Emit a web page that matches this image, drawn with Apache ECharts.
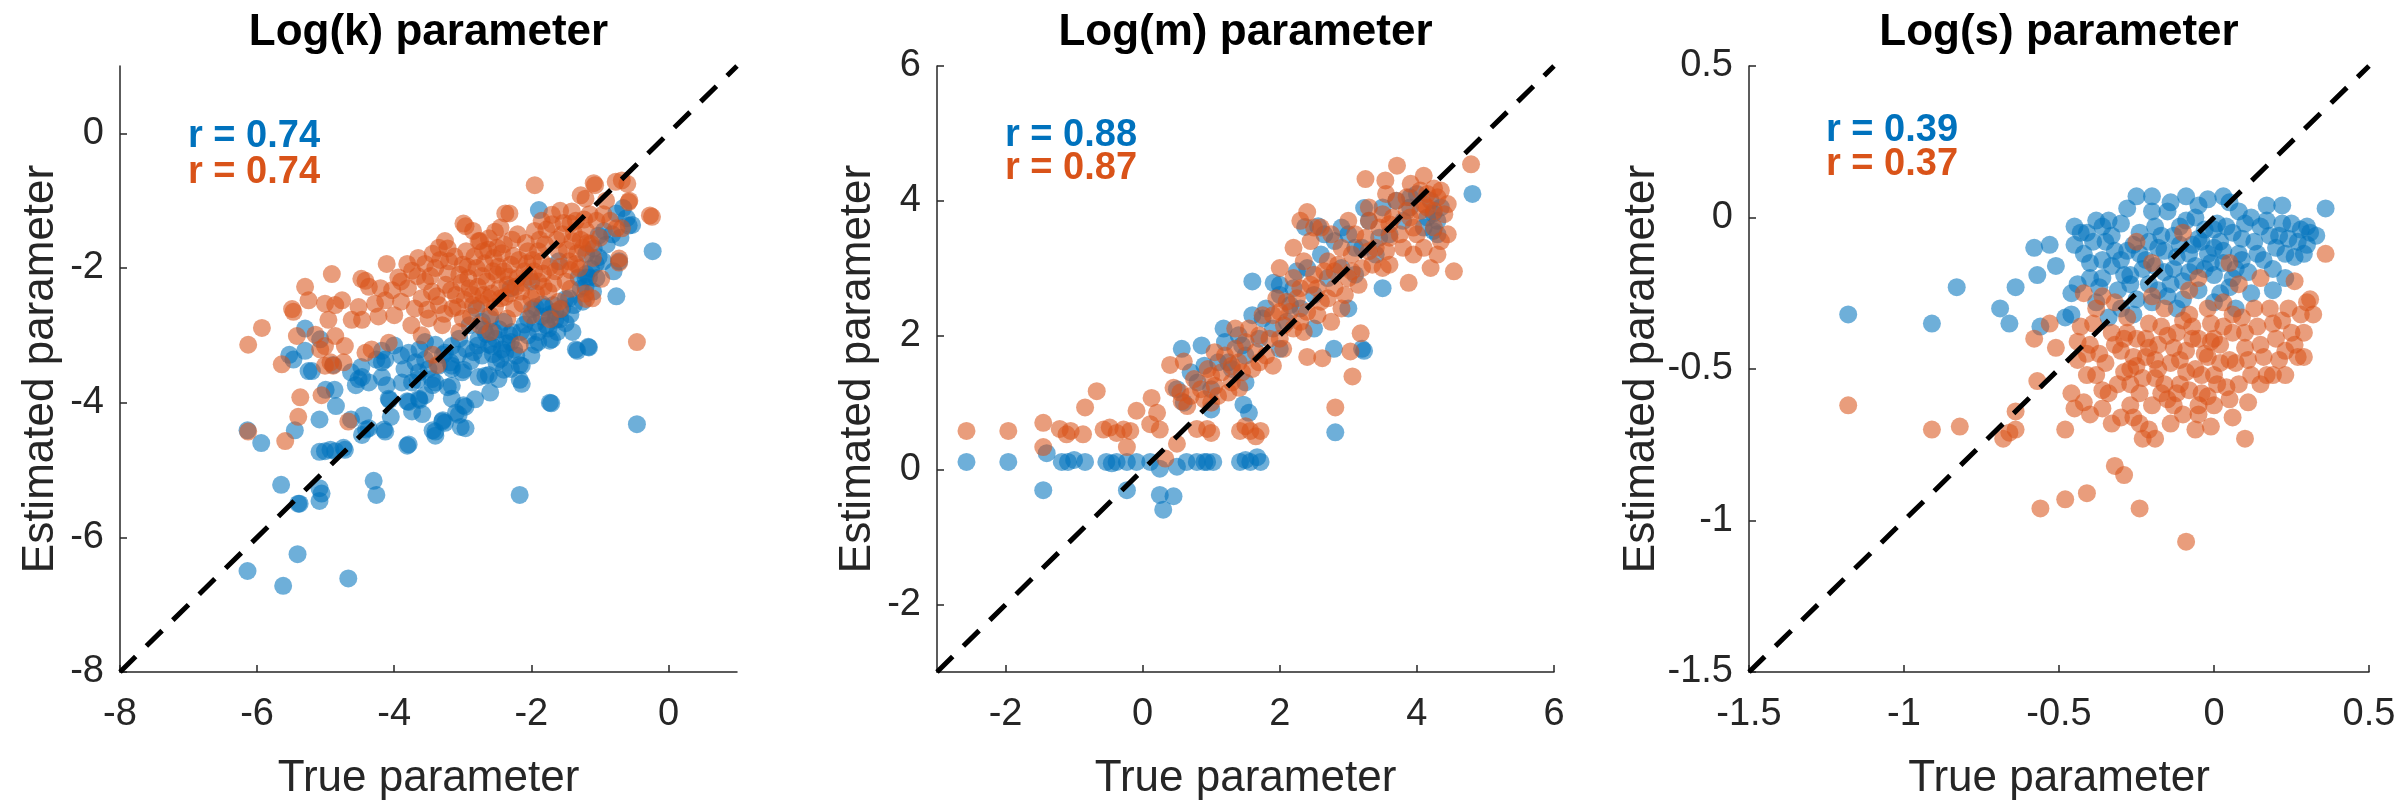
<!DOCTYPE html>
<html>
<head>
<meta charset="utf-8">
<title>Parameter recovery</title>
<script src="https://cdn.jsdelivr.net/npm/echarts@6.0.0/dist/echarts.min.js"></script>
<style>
  html, body { margin: 0; padding: 0; background: #ffffff; }
  #chart { width: 2399px; height: 806px; }
</style>
</head>
<body>
<div id="chart"></div>
<script>
// ---- Log(k): true vs. estimated, two estimation methods ----
const logkRange = [-8, 1];
const logkTicks = [-8, -6, -4, -2, 0];
const logkR = ['0.74', '0.74'];
const logkA = [
  [-6.14,-6.50],[-5.62,-6.72],[-5.41,-6.25],[-4.67,-6.61],[-2.17,-5.37],
  [-5.65,-5.22],[-5.38,-5.50],[-5.09,-5.46],[-5.09,-5.27],[-4.30,-5.16],[-4.26,-5.37],
  [-5.94,-4.60],[-6.14,-4.41],[-5.45,-4.41],[-5.09,-4.73],[-4.93,-4.70],[-4.74,-4.67],
  [-5.09,-4.25],[-4.85,-4.05],[-4.87,-3.81],[-4.63,-4.25],[-4.45,-4.19],[-4.41,-4.40],
  [-4.15,-4.40],[-3.81,-4.64],[-4.05,-4.21],[-4.07,-3.96],[-3.81,-3.98],[-3.63,-3.96],
  [-3.59,-4.17],[-3.44,-4.41],[-3.29,-4.26],[-3.10,-4.15],[-3.03,-4.36],[-2.99,-4.04],
  [-3.40,-4.49],[-3.89,-3.70],[-3.66,-3.66],[-3.44,-3.74],[-3.22,-3.77],[-1.73,-4.00],[-0.46,-4.32],
  [-5.30,-2.90],[-5.53,-3.29],[-5.25,-3.53],[-5.08,-3.06],[-4.89,-3.44],[-4.63,-3.55],
  [-4.56,-3.74],[-4.47,-3.62],[-4.48,-3.47],[-4.26,-3.36],[-4.18,-3.62],[-4.11,-3.74],[-5.00,-3.81],
  [-5.47,-3.36],[-5.30,-3.23],[-5.20,-3.53],[-4.52,-3.65],[-4.37,-3.70],[-4.18,-3.40],
  [-4.08,-3.94],[-3.74,-3.70],[-3.79,-3.99],[-3.64,-3.94],[-3.74,-4.13],[-3.55,-3.89],
  [-3.40,-3.70],[-3.30,-4.28],[-3.40,-4.43],[-3.79,-4.62],[-4.13,-4.43],[-4.37,-4.38],
  [-4.47,-4.48],[-5.01,-4.72],[-4.86,-4.72],[-4.72,-4.70],[-5.40,-5.50],[-5.06,-5.35],
  [-3.79,-3.26],[-3.69,-3.40],[-3.55,-3.36],[-4.13,-3.36],[-4.18,-3.23],[-3.64,-3.55],
  [-3.45,-3.65],[-3.26,-3.26],[-3.16,-3.16],[-3.16,-3.50],[-3.16,-3.94],
  [-3.63,-3.21],[-3.40,-3.14],[-3.29,-3.29],[-3.18,-3.40],[-3.07,-3.29],[-2.99,-3.51],
  [-2.84,-3.25],[-2.69,-2.91],[-2.62,-3.14],[-2.47,-2.91],[-2.43,-3.21],[-2.32,-2.99],
  [-2.25,-3.21],[-2.17,-3.44],[-2.17,-3.66],[-2.62,-3.59],[-2.51,-3.40],[-2.77,-3.62],
  [-2.40,-3.51],[-1.95,-3.14],[-2.10,-2.84],[-1.99,-2.61],[-1.84,-2.54],[-1.73,-2.69],
  [-1.58,-2.76],[-1.43,-2.69],[-1.73,-3.08],[-1.35,-3.21],[-1.17,-3.17],[-1.50,-2.46],
  [-1.28,-2.31],[-1.20,-2.09],[-1.13,-2.01],[-1.20,-1.79],[-1.09,-1.71],[-1.02,-1.52],
  [-0.94,-1.45],[-0.76,-1.19],[-0.61,-1.26],[-0.58,-1.37],[-0.23,-1.75],[-0.76,-2.42],
  [-0.72,-1.90],[-0.66,-1.11],[-1.89,-1.14],[-0.53,-1.36],[-1.06,-1.94],[-1.21,-2.14],
  [-1.21,-2.28],[-1.70,-3.06],[-1.33,-3.23],[-1.16,-3.18],[-1.71,-4.01],[-2.14,-3.45],
  [-2.14,-3.72],[-2.48,-3.65],[-2.67,-3.60],[-2.96,-4.06],[-3.06,-4.18],[-2.96,-4.38],
  [-3.26,-4.30],[-2.57,-3.16],[-2.38,-3.26],[-2.77,-3.06],[-3.16,-3.45],[-3.01,-3.55],
  [-3.16,-3.75],[-1.94,-2.58],[-1.80,-2.58],[-1.94,-2.82],[-1.65,-2.77],[-1.50,-2.82],
  [-1.31,-2.14],[-1.16,-2.14],[-1.02,-1.84],[-2.30,-2.30],[-2.80,-2.60],[-1.60,-1.90],
  [-2.00,-2.20],[-2.90,-2.85],[-2.60,-2.75],
  [-3.05,-3.05],[-2.95,-3.20],[-2.88,-3.38],[-2.78,-3.15],[-2.72,-3.30],[-2.66,-2.98],
  [-2.56,-3.28],[-2.52,-3.05],[-2.45,-3.35],[-2.36,-3.12],[-2.28,-2.95],[-2.22,-3.30],
  [-2.05,-3.00],[-2.00,-3.30],[-1.90,-2.95],[-1.85,-2.72],[-1.78,-2.85],[-1.68,-2.55],
  [-1.62,-2.95],[-1.55,-2.60],[-1.45,-2.45],[-1.40,-2.95],[-1.38,-2.55],[-1.25,-2.50],
  [-1.10,-2.35],[-1.05,-2.15],[-0.95,-1.90],[-0.90,-1.65],[-0.82,-1.50],[-0.70,-1.55],
  [-0.80,-2.05],[-3.50,-3.50],[-3.35,-3.45],[-3.55,-3.10],[-3.90,-3.30],[-4.00,-3.15],
  [-3.85,-3.50],[-2.82,-3.95],[-2.60,-3.85],[-2.30,-3.50],
  [-2.72,-2.80],[-2.55,-2.95],[-2.40,-2.80],[-2.30,-3.10],[-2.15,-2.95],[-2.05,-2.75],
  [-1.90,-3.10],[-1.75,-2.90],[-1.65,-2.65]
];
const logkB = [
  [-6.13,-3.14],[-5.93,-2.89],[-5.64,-3.43],[-5.47,-2.65],[-5.30,-2.28],[-5.42,-3.01],
  [-5.25,-2.48],[-4.91,-2.09],[-5.01,-2.53],[-4.86,-2.55],[-4.76,-2.48],[-4.96,-2.77],
  [-5.01,-3.16],[-4.86,-3.01],[-4.72,-3.16],[-5.01,-3.45],[-4.89,-3.45],[-4.74,-3.40],
  [-5.06,-3.89],[-5.37,-3.92],[-5.40,-4.21],[-5.59,-4.57],[-6.13,-4.43],[-4.67,-4.28],
  [-4.42,-2.19],[-4.37,-2.28],[-4.52,-2.58],[-4.47,-2.77],[-4.28,-2.53],[-4.62,-2.77],
  [-4.33,-3.21],[-4.13,-2.48],[-4.23,-2.72],[-4.03,-2.33],[-3.94,-2.14],[-3.74,-2.04],
  [-3.55,-1.94],[-3.35,-1.70],[-3.26,-1.60],[-4.08,-3.11],[-4.42,-3.26],[-5.49,-2.61],
  [-5.15,-2.99],[-5.08,-3.21],[-4.93,-3.40],[-4.48,-2.16],[-4.11,-1.94],[-3.81,-1.94],
  [-3.66,-2.12],[-3.44,-1.79],[-3.22,-1.71],[-2.99,-1.34],[-2.62,-1.56],[-2.32,-1.19],
  [-1.95,-0.77],[-1.58,-1.15],[-1.43,-1.34],[-1.28,-0.92],[-1.09,-0.74],[-0.91,-1.00],
  [-0.68,-0.70],[-0.57,-1.00],[-0.27,-1.22],[-0.46,-3.10],[-0.76,-1.41],[-0.72,-1.86],
  [-0.98,-2.16],[-1.20,-2.46],[-1.43,-2.31],[-1.35,-1.94],[-1.13,-1.64],[-1.73,-2.76],
  [-1.58,-2.61],[-2.17,-3.14],[-3.44,-3.29],[-3.37,-3.44],[-1.07,-0.77],[-0.77,-0.72],
  [-0.60,-0.75],[-1.21,-0.97],[-0.58,-1.02],[-0.24,-1.24],[-2.96,-1.38],[-2.38,-1.19],
  [-1.41,-1.16],[-1.70,-1.21],[-2.53,-1.46],[-2.77,-1.60],[-0.68,-1.41],[-0.72,-1.92],
  [-1.11,-2.45],[-1.21,-2.38],
  [-3.80,-2.30],[-3.70,-2.60],[-3.60,-2.45],[-3.55,-2.20],[-3.50,-2.75],[-3.45,-2.35],
  [-3.40,-2.00],[-3.35,-2.55],[-3.30,-2.85],[-3.25,-2.25],[-3.20,-1.90],[-3.15,-2.60],
  [-3.10,-2.40],[-3.05,-2.10],[-3.00,-2.75],[-2.95,-1.75],[-2.90,-2.30],[-2.85,-2.55],
  [-2.80,-2.00],[-2.75,-1.60],[-2.70,-2.40],[-2.65,-2.20],[-2.60,-2.70],[-2.55,-1.85],
  [-2.50,-2.10],[-2.45,-2.45],[-2.40,-1.65],[-2.35,-2.25],[-2.30,-1.95],[-2.25,-2.60],
  [-2.20,-1.50],[-2.15,-2.35],[-2.10,-2.05],[-2.05,-1.75],[-2.00,-2.45],[-1.95,-1.45],
  [-1.90,-2.20],[-1.85,-1.90],[-1.80,-1.65],[-1.75,-2.35],[-1.70,-1.35],[-1.65,-2.05],
  [-1.60,-1.75],[-1.55,-1.50],[-1.50,-2.20],[-1.45,-1.90],[-1.40,-1.60],[-1.35,-1.30],
  [-1.30,-2.00],[-1.25,-1.70],[-1.20,-1.45],[-1.15,-1.20],[-1.10,-1.85],[-3.90,-2.50],
  [-3.75,-2.85],[-4.00,-2.70],[-3.60,-3.00],[-2.75,-2.85],[-2.00,-2.70],[-1.60,-2.50],
  [-3.52,-2.62],[-3.47,-2.12],[-3.38,-2.42],[-3.33,-1.88],[-3.27,-2.68],[-3.22,-2.08],
  [-3.17,-2.33],[-3.12,-1.83],[-3.08,-2.58],[-3.02,-2.22],[-2.97,-2.47],[-2.93,-1.98],
  [-2.88,-2.72],[-2.83,-1.83],[-2.78,-2.28],[-2.73,-2.53],[-2.68,-1.93],[-2.63,-1.73],
  [-2.58,-2.38],[-2.53,-2.58],[-2.48,-1.98],[-2.43,-1.78],[-2.38,-2.43],[-2.33,-2.13],
  [-2.28,-1.58],[-2.23,-2.28],[-2.18,-1.88],[-2.13,-2.53],[-2.08,-1.63],[-2.03,-2.13],
  [-1.98,-1.88],[-1.93,-2.38],[-1.88,-1.58],[-1.83,-2.08],[-1.78,-1.43],[-1.73,-1.98],
  [-1.68,-2.23],[-1.63,-1.58],[-1.58,-1.98],[-1.53,-1.33],[-1.48,-1.73],[-1.43,-2.03],
  [-1.38,-1.48],[-1.33,-1.78],[-1.28,-1.58],[-1.23,-1.28],[-1.18,-1.63],[-2.60,-2.95],
  [-2.35,-2.75],[-3.05,-2.95],[-2.45,-1.40],[-2.85,-1.45],[-1.85,-1.30],[-1.05,-1.30],
  [-1.00,-1.55],[-0.95,-1.20],[-0.85,-1.30],[-3.90,-2.20],[-3.65,-1.85],[-4.20,-2.30],
  [-2.92,-2.15],[-2.86,-2.40],[-2.72,-2.12],[-2.62,-2.45],[-2.56,-2.05],[-2.46,-2.30],
  [-2.40,-2.05],[-2.31,-2.38],[-2.26,-1.82],[-2.20,-2.15],[-2.12,-2.22],[-2.06,-1.93],
  [-1.96,-2.05],[-1.90,-1.75],[-1.82,-2.28],[-2.50,-1.70],[-2.70,-1.75],[-3.00,-1.95]
];

// ---- Log(m) ----
const logmRange = [-3, 6];
const logmTicks = [-2, 0, 2, 4, 6];
const logmR = ['0.88', '0.87'];
const logmA = [
  [-3.03,-0.59],[-2.57,0.12],[-1.96,0.12],[-1.45,-0.30],[-1.40,0.25],[-1.18,0.12],
  [-1.09,0.12],[-1.00,0.15],[-0.84,0.12],[-0.53,0.12],[-0.45,0.10],[-0.38,0.12],
  [-0.23,0.12],[-0.23,-0.30],[-0.09,0.12],[0.11,0.12],[0.25,0.02],[0.25,-0.37],
  [0.30,-0.59],[0.45,-0.39],[0.50,0.05],[0.64,0.12],[0.79,0.12],[0.90,0.12],
  [0.94,0.12],[1.03,0.12],[1.42,0.12],[1.50,0.15],[1.57,0.12],[1.67,0.19],[1.72,0.12],
  [0.57,1.80],[0.86,1.85],[1.18,2.10],[1.47,0.97],[1.55,0.85],[1.60,2.80],[2.00,2.75],
  [1.91,2.78],[2.37,3.61],[2.56,3.62],[3.23,3.89],[4.24,3.81],[4.24,3.55],[4.81,4.10],
  [3.20,1.80],[2.81,0.56],[2.79,1.80],[3.23,1.77],
  [0.60,1.00],[0.80,1.30],[1.00,1.20],[1.10,1.60],[1.20,1.90],[1.30,1.50],[1.40,2.00],
  [1.50,1.70],[1.60,2.30],[1.70,1.95],[1.80,2.40],[1.90,2.10],[2.00,2.60],[2.10,2.20],
  [2.20,2.70],[2.30,2.40],[2.40,3.00],[2.50,2.60],[2.60,3.20],[2.70,2.85],[2.80,3.40],
  [2.90,3.00],[3.00,3.50],[3.10,2.90],[3.20,3.30],[3.30,3.70],[3.40,3.20],[3.50,3.90],
  [3.60,3.50],[3.70,4.00],[3.80,3.70],[3.90,3.90],[4.00,4.10],[4.10,3.60],[4.20,4.00],
  [4.30,3.70],[4.35,3.90],[3.00,2.40],[2.50,2.10],[1.50,1.30],[1.00,0.90],[0.50,1.20],
  [3.50,2.70],[2.00,1.80],
  [2.25,2.95],[2.65,3.50],[2.90,3.60],[3.10,3.30],[3.45,3.45],[3.90,4.05],[4.15,3.75],
  [4.30,3.50],[1.25,1.60],[1.45,1.85],[1.75,2.25],[2.15,2.45],[0.90,1.55],[0.70,1.45]
];
const logmB = [
  [-3.03,0.17],[-2.57,0.58],[-1.96,0.58],[-1.45,0.70],[-1.45,0.34],[-1.21,0.61],
  [-1.11,0.53],[-1.05,0.58],[-0.87,0.53],[-0.57,0.60],[-0.48,0.63],[-0.38,0.55],
  [-0.28,0.60],[-0.18,0.58],[0.11,0.68],[0.25,0.60],[-0.23,0.34],[0.33,0.17],
  [0.50,0.39],[0.79,0.61],[0.94,0.61],[1.00,0.55],[1.42,0.58],[1.50,0.65],[1.57,0.58],
  [1.65,0.50],[1.72,0.58],
  [-0.84,0.93],[-0.67,1.17],[-0.09,0.88],[0.13,1.07],[0.21,0.85],[0.45,1.22],[0.57,1.02],
  [0.40,1.56],[0.60,1.61],[0.70,1.10],[0.85,1.20],[1.00,1.40],[1.10,1.10],[1.20,1.70],
  [1.30,1.30],[1.40,1.60],[1.50,1.90],[1.60,1.50],[1.70,2.00],[1.80,1.70],[1.90,2.30],
  [2.00,1.95],[2.10,2.50],[2.20,2.10],[2.30,2.70],[2.40,2.35],[2.50,2.90],[2.60,2.50],
  [2.70,3.10],[2.75,2.20],[2.80,2.70],[2.90,3.30],[3.00,2.85],[3.10,3.50],[3.20,3.00],
  [3.30,3.70],[3.40,3.30],[3.50,3.00],[3.50,3.80],[3.60,3.45],[3.70,4.00],[3.80,3.30],
  [3.90,3.75],[4.00,3.50],[4.05,4.15],[4.15,3.90],[4.25,3.60],[4.30,4.05],[4.40,3.80],
  [4.35,3.40],
  [4.79,4.54],[3.71,4.52],[3.25,4.32],[3.54,4.30],[3.91,4.25],[4.10,4.37],[4.25,4.18],
  [4.54,2.95],[3.88,2.78],[2.40,3.83],[3.18,2.03],[3.03,1.76],[3.06,1.39],[2.40,1.68],
  [2.62,1.66],[2.81,0.93],[2.06,2.15],[1.41,1.22],[2.30,3.70],[2.20,3.30],[2.50,3.60],
  [2.00,3.00],[4.30,3.20],[4.20,3.00],
  [0.55,1.15],[0.65,0.95],[0.75,1.35],[0.90,1.05],[0.95,1.50],[1.05,1.25],[1.15,1.45],
  [1.25,1.15],[1.35,1.80],[1.45,1.45],[1.55,2.10],[1.65,1.75],[1.75,2.30],[1.85,1.95],
  [1.95,2.55],[2.05,1.80],[2.15,2.35],[2.25,2.55],[2.35,2.05],[2.45,2.75],[2.55,2.30],
  [2.65,2.95],[2.70,2.55],[2.85,3.05],[2.95,2.60],[3.05,3.20],[3.15,2.75],[3.25,3.45],
  [3.35,3.05],[3.45,3.60],[3.55,3.25],[3.65,3.75],[3.75,3.50],[3.85,4.05],[3.95,3.60],
  [4.05,3.85],[4.15,4.10],[4.25,3.85],[4.35,4.15],[4.45,3.95],[2.60,3.60],[2.45,3.40],
  [2.75,3.50],[3.00,3.70],[3.55,4.10],[3.30,3.90],[2.35,3.10],[2.20,2.85],[2.90,2.40],
  [3.60,3.05],[4.10,3.30],[4.45,3.50],[3.95,3.20],[1.90,1.55],[1.35,2.10],[1.05,1.75],
  [2.00,2.35],[2.30,2.20],[2.55,2.70],[2.80,2.95],[3.05,2.95],[3.30,3.25],[3.60,3.65],
  [3.85,3.85],[4.10,3.95],[1.70,1.60],[1.30,1.55],[1.00,1.00]
];

// ---- Log(s) ----
const logsRange = [-1.5, 0.5];
const logsTicks = [-1.5, -1, -0.5, 0, 0.5];
const logsR = ['0.39', '0.37'];
const logsA = [
  [-1.18,-0.32],[-0.91,-0.35],[-0.83,-0.23],[-0.69,-0.30],[-0.66,-0.35],[-0.64,-0.23],
  [-0.58,-0.10],[-0.53,-0.09],[-0.57,-0.19],[-0.51,-0.16],[-0.45,-0.03],[-0.41,-0.05],
  [-0.45,-0.09],[-0.38,-0.01],[-0.36,-0.03],[-0.46,-0.32],[-0.48,-0.33],[-0.56,-0.36],
  [-0.46,-0.25],[-0.25,0.07],[-0.20,0.07],[-0.09,0.07],[0.03,0.07],[0.22,0.04],
  [0.36,0.03],[-0.05,0.04],[-0.20,0.02],[-0.15,0.02],[0.30,-0.03],[0.30,-0.09],
  [0.29,-0.12],[0.23,-0.20],[0.19,-0.24],[0.05,0.05],[0.12,0.00],
  [-0.42,-0.12],[-0.40,-0.20],[-0.38,-0.28],[-0.35,-0.08],[-0.33,-0.16],[-0.31,-0.24],
  [-0.30,-0.02],[-0.28,-0.11],[-0.27,-0.19],[-0.25,-0.27],[-0.24,-0.05],[-0.22,-0.14],
  [-0.21,-0.22],[-0.19,-0.03],[-0.18,-0.10],[-0.16,-0.18],[-0.15,-0.26],[-0.13,-0.06],
  [-0.12,-0.13],[-0.10,-0.21],[-0.09,-0.01],[-0.07,-0.09],[-0.06,-0.16],[-0.05,-0.24],
  [-0.03,-0.04],[-0.02,-0.12],[0.00,-0.19],[0.01,-0.02],[0.02,-0.08],[0.03,-0.15],
  [0.05,-0.23],[0.06,-0.05],[0.08,-0.12],[0.10,-0.02],[0.11,-0.18],[0.13,-0.08],
  [0.15,-0.03],[0.16,-0.14],[0.18,-0.06],[0.20,-0.10],[0.22,-0.02],[0.24,-0.07],
  [0.26,-0.13],[0.28,-0.04],[-0.26,-0.32],[-0.12,-0.30],[0.00,-0.28],[0.07,-0.30],
  [-0.34,-0.33],[-0.44,-0.22],
  [-0.43,-0.05],[-0.40,-0.15],[-0.37,-0.23],[-0.34,-0.01],[-0.32,-0.11],[-0.29,-0.19],
  [-0.26,-0.09],[-0.23,-0.17],[-0.20,-0.28],[-0.17,-0.06],[-0.14,-0.22],[-0.11,-0.09],
  [-0.08,-0.18],[-0.04,-0.08],[-0.01,-0.15],[0.02,-0.25],[0.04,-0.03],[0.07,-0.17],
  [0.09,-0.07],[0.12,-0.25],[0.14,-0.12],[0.17,-0.01],[0.19,-0.17],[0.21,-0.06],
  [0.23,-0.12],[0.25,-0.02],[0.27,-0.08],[0.31,-0.05],[0.33,-0.06],[-0.28,0.03],
  [-0.14,0.05],[-0.02,0.06],[0.08,0.02],[0.17,0.04],[-0.10,-0.27],[-0.30,-0.30],
  [-0.18,-0.24],[0.00,-0.10],[-0.06,0.00],[-0.36,-0.14],
  [-0.33,-0.06],[-0.30,-0.14],[-0.27,-0.22],[-0.24,-0.12],[-0.21,-0.08],[-0.19,-0.16],
  [-0.16,-0.11],[-0.13,-0.17],[-0.11,-0.03],[-0.08,-0.12],[-0.05,-0.07],[-0.03,-0.17],
  [0.00,-0.04],[0.03,-0.11],[0.06,-0.20],[0.09,-0.14],[-0.36,-0.20],[-0.39,-0.08]
];
const logsB = [
  [-1.18,-0.62],[-0.91,-0.70],[-0.82,-0.69],[-0.68,-0.73],[-0.64,-0.70],[-0.66,-0.71],
  [-0.64,-0.64],[-0.57,-0.54],[-0.58,-0.40],[-0.53,-0.35],[-0.51,-0.43],[-0.48,-0.70],
  [-0.56,-0.96],[-0.48,-0.93],[-0.41,-0.91],[-0.46,-0.58],[-0.45,-0.63],[-0.42,-0.61],
  [-0.44,-0.47],[-0.41,-0.45],[-0.38,-0.52],[-0.36,-0.57],[-0.36,-0.63],[-0.36,-0.26],
  [0.36,-0.12],[0.26,-0.21],[0.30,-0.28],[0.27,-0.46],[0.29,-0.46],[0.23,-0.44],
  [0.15,-0.55],[0.19,-0.52],[0.23,-0.52],[0.11,-0.61],[0.10,-0.73],[-0.02,-0.59],
  [-0.05,-0.65],[-0.10,-0.65],[-0.21,-0.70],[-0.19,-0.73],[-0.23,-0.73],[-0.32,-0.82],
  [-0.29,-0.85],[-0.24,-0.96],[-0.09,-1.07],[-0.30,-0.66],[-0.27,-0.62],
  [-0.25,-0.08],[-0.10,-0.05],[0.05,-0.15],[-0.20,-0.15],[-0.05,-0.20],[0.15,-0.20],
  [-0.42,-0.25],
  [-0.43,-0.36],[-0.40,-0.42],[-0.38,-0.30],[-0.35,-0.48],[-0.33,-0.38],[-0.31,-0.55],
  [-0.30,-0.44],[-0.28,-0.33],[-0.27,-0.50],[-0.25,-0.40],[-0.24,-0.58],[-0.22,-0.46],
  [-0.21,-0.35],[-0.19,-0.53],[-0.18,-0.42],[-0.16,-0.30],[-0.15,-0.60],[-0.14,-0.48],
  [-0.12,-0.38],[-0.11,-0.55],[-0.09,-0.44],[-0.08,-0.32],[-0.06,-0.50],[-0.05,-0.40],
  [-0.04,-0.58],[-0.02,-0.46],[-0.01,-0.35],[0.00,-0.52],[0.02,-0.42],[0.03,-0.28],
  [0.04,-0.56],[0.06,-0.38],[0.07,-0.48],[0.09,-0.33],[0.10,-0.43],[0.12,-0.52],
  [0.14,-0.36],[0.16,-0.46],[0.18,-0.30],[0.20,-0.40],[0.22,-0.34],[0.25,-0.38],
  [0.28,-0.32],[0.31,-0.27],[-0.20,-0.26],[-0.08,-0.24],[0.08,-0.22],[-0.32,-0.28],
  [-0.13,-0.62],[-0.26,-0.66],[0.00,-0.62],[0.05,-0.60],
  [-0.44,-0.41],[-0.41,-0.52],[-0.39,-0.35],[-0.37,-0.45],[-0.34,-0.58],[-0.32,-0.42],
  [-0.29,-0.51],[-0.28,-0.38],[-0.26,-0.46],[-0.23,-0.53],[-0.22,-0.40],[-0.20,-0.62],
  [-0.19,-0.47],[-0.17,-0.36],[-0.16,-0.55],[-0.13,-0.43],[-0.12,-0.58],[-0.10,-0.34],
  [-0.09,-0.51],[-0.07,-0.40],[-0.05,-0.62],[-0.03,-0.45],[-0.02,-0.30],[0.00,-0.40],
  [0.01,-0.55],[0.03,-0.36],[0.05,-0.47],[0.06,-0.32],[0.08,-0.55],[0.10,-0.38],
  [0.11,-0.47],[0.13,-0.30],[0.15,-0.42],[0.17,-0.52],[0.19,-0.35],[0.21,-0.47],
  [0.24,-0.30],[0.26,-0.42],[0.29,-0.38],[0.32,-0.32],[-0.24,-0.68],[-0.14,-0.68],
  [-0.06,-0.70],[-0.33,-0.68],[-0.40,-0.65],[-0.01,-0.69],[0.06,-0.66],
  [-0.29,-0.40],[-0.25,-0.49],[-0.21,-0.43],[-0.18,-0.50],[-0.15,-0.39],[-0.11,-0.47],
  [-0.07,-0.36],[-0.04,-0.52],[-0.01,-0.41],[0.02,-0.48],[-0.17,-0.58],[-0.27,-0.55],
  [-0.08,-0.57]
];

// ---- styling ----
const FONT = '"Liberation Sans", Arial, Helvetica, sans-serif';
const INK = '#262626';
const BLUE = '#0072BD';
const ORANGE = '#D95319';

const panels = [
  { title: 'Log(k) parameter', range: logkRange, ticks: logkTicks, a: logkA, b: logkB, r: logkR,
    left: 120, width: 617, rx: 188, ry: [137, 173] },
  { title: 'Log(m) parameter', range: logmRange, ticks: logmTicks, a: logmA, b: logmB, r: logmR,
    left: 937, width: 617, rx: 1005, ry: [136, 169] },
  { title: 'Log(s) parameter', range: logsRange, ticks: logsTicks, a: logsA, b: logsB, r: logsR,
    left: 1749, width: 620, rx: 1826, ry: [131, 165] }
];
const GRID_TOP = 66, GRID_H = 615;

function makeAxis(i, p, isX) {
  return {
    type: 'value', gridIndex: i, min: p.range[0], max: p.range[1],
    name: isX ? 'True parameter' : 'Estimated parameter',
    nameLocation: 'middle', nameGap: isX ? 85 : 57,
    nameTextStyle: { fontFamily: FONT, fontSize: 44, color: INK },
    axisLine: { show: true, onZero: false, lineStyle: { color: INK, width: 1.5 } },
    axisTick: { show: true, inside: true, length: 7, customValues: p.ticks,
                lineStyle: { color: INK, width: 1.5 } },
    axisLabel: { show: true, customValues: p.ticks, margin: isX ? 24 : 16,
                 fontFamily: FONT, fontSize: 38, color: INK },
    splitLine: { show: false }
  };
}

const grids = [], xAxes = [], yAxes = [], series = [], graphics = [];
panels.forEach((p, i) => {
  grids.push({ left: p.left, top: GRID_TOP, width: p.width, height: GRID_H });
  xAxes.push(makeAxis(i, p, true));
  yAxes.push(makeAxis(i, p, false));
  series.push({
    type: 'scatter', xAxisIndex: i, yAxisIndex: i, data: p.a, symbolSize: 18,
    itemStyle: { color: BLUE, opacity: 0.57 }, z: 2
  });
  series.push({
    type: 'scatter', xAxisIndex: i, yAxisIndex: i, data: p.b, symbolSize: 18,
    itemStyle: { color: ORANGE, opacity: 0.57 }, z: 3
  });
  // identity line
  series.push({
    type: 'line', xAxisIndex: i, yAxisIndex: i, symbol: 'none', silent: true,
    data: [[p.range[0], p.range[0]], [p.range[1], p.range[1]]],
    lineStyle: { color: '#000', width: 5, type: [22, 15] }, z: 5
  });
  graphics.push({
    type: 'text', x: p.left + p.width / 2, y: 33,
    style: { text: p.title, font: 'bold 44px ' + FONT, fill: '#000',
             align: 'center', verticalAlign: 'middle' }
  });
  graphics.push({
    type: 'text', x: p.rx, y: p.ry[0],
    style: { text: 'r = ' + p.r[0], font: 'bold 38px ' + FONT, fill: BLUE,
             align: 'left', verticalAlign: 'middle' }
  });
  graphics.push({
    type: 'text', x: p.rx, y: p.ry[1],
    style: { text: 'r = ' + p.r[1], font: 'bold 38px ' + FONT, fill: ORANGE,
             align: 'left', verticalAlign: 'middle' }
  });
});

const chart = echarts.init(document.getElementById('chart'), null, { renderer: 'canvas' });
chart.setOption({
  backgroundColor: '#ffffff',
  animation: false,
  grid: grids,
  xAxis: xAxes,
  yAxis: yAxes,
  series: series,
  graphic: graphics
});
</script>
</body>
</html>
